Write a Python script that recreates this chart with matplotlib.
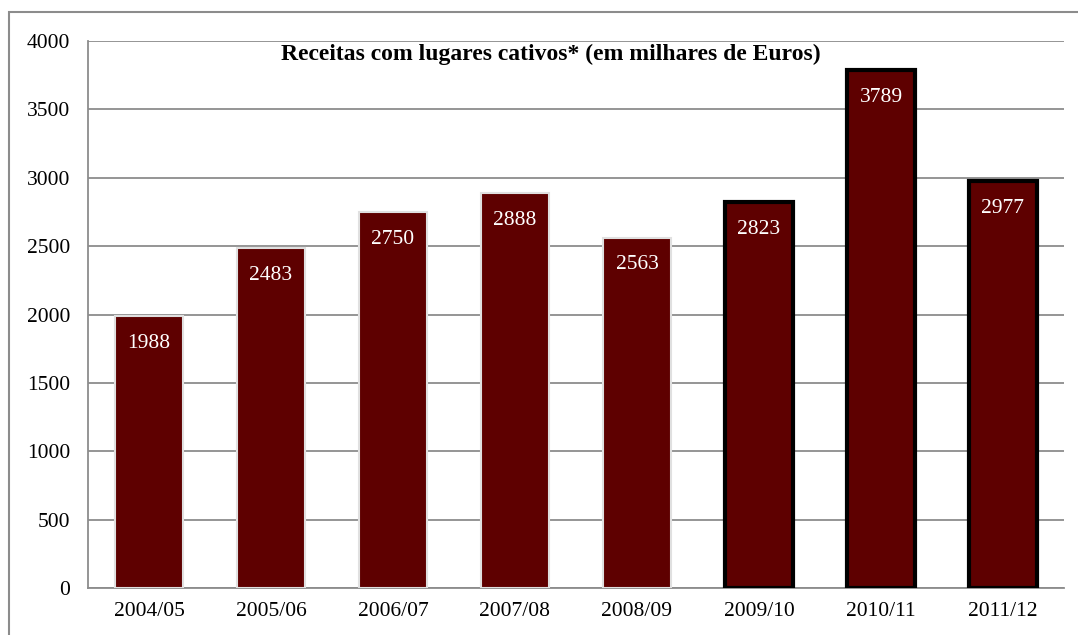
import matplotlib
matplotlib.use("Agg")
import matplotlib.pyplot as plt
from matplotlib.patches import Rectangle

seasons = ["2004/05", "2005/06", "2006/07", "2007/08", "2008/09",
           "2009/10", "2010/11", "2011/12"]
receitas = [1988, 2483, 2750, 2888, 2563, 2823, 3789, 2977]
# last three seasons are drawn with a black outline
outlined = [False, False, False, False, False, True, True, True]

plt.rcParams['font.family'] = ['Liberation Serif', 'DejaVu Serif']

fig = plt.figure(figsize=(10.78, 6.35), dpi=100)
ax = fig.add_axes([88/1078, 1 - 588/635, (1064 - 88)/1078, (588 - 41)/635])

# outer chart border
fig.patches.append(Rectangle((9/1078, -0.05), 1.2, (635 - 12)/635 + 0.05,
                             transform=fig.transFigure, fill=False,
                             edgecolor="#8c8c8c", linewidth=1.5))

x = range(len(seasons))
for i, v in enumerate(receitas):
    if outlined[i]:
        ax.bar(i, v, width=0.56, color="#5e0000", edgecolor="black",
               linewidth=3, zorder=3)
    else:
        ax.bar(i, v, width=0.56, color="#5e0000", edgecolor="#e0e0e0",
               linewidth=1.5, zorder=3)
    ax.text(i, v - 200, str(v), ha="center", va="center",
            color="white", fontsize=15.5, zorder=4)

ax.set_xlim(-0.5, len(seasons) - 0.5)
ax.set_ylim(0, 4000)
ax.set_yticks(range(0, 4001, 500))
ax.set_xticks(list(x))
ax.set_xticklabels(seasons)
ax.tick_params(axis="both", length=0, labelsize=15.5)
ax.tick_params(axis="y", pad=13)
ax.tick_params(axis="x", pad=10)
ax.grid(axis="y", color="#8c8c8c", linewidth=1.3, zorder=0)
ax.set_axisbelow(True)

for side in ["top", "right"]:
    ax.spines[side].set_visible(False)
for side in ["left", "bottom"]:
    ax.spines[side].set_color("#8c8c8c")
    ax.spines[side].set_linewidth(1.3)

fig.text(551/1078, 1 - 54/635, "Receitas com lugares cativos* (em milhares de Euros)",
         ha="center", va="center", fontsize=17, fontweight="bold")

fig.savefig("out.png", dpi=100)
